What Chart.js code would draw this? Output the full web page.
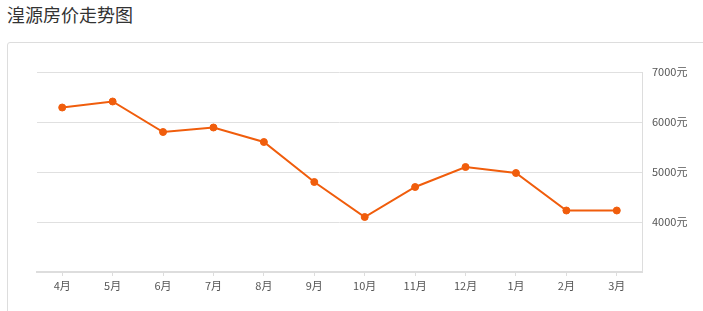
<!DOCTYPE html>
<html>
<head>
<meta charset="utf-8">
<script src="https://cdn.jsdelivr.net/npm/chart.js@4/dist/chart.umd.min.js"></script>
<style>
  body { margin: 0; background: #fff; font-family: "Noto Sans CJK SC", sans-serif; overflow: hidden; }
  .title { position: absolute; left: 7px; top: 2px; font-size: 18px; color: #333; line-height: 24px; }
  .box { position: absolute; left: 7px; top: 42px; width: 720px; height: 300px; border: 1px solid #ddd; border-radius: 3px; }
  #priceChart { position: absolute; left: 0; top: 0; }
</style>
</head>
<body>
<div class="title">湟源房价走势图</div>
<div class="box"></div>
<canvas id="priceChart" width="703" height="311"></canvas>
<script>
const months = ['4月', '5月', '6月', '7月', '8月', '9月', '10月', '11月', '12月', '1月', '2月', '3月'];
const prices = [6290, 6410, 5800, 5890, 5600, 4800, 4100, 4700, 5100, 4980, 4230, 4230];
const yTicks = [3000, 4000, 5000, 6000, 7000];

const lineColor = '#f05d0c';

const ctx = document.getElementById('priceChart').getContext('2d');
const priceChart = new Chart(ctx, {
    type: 'line',
    data: {
        labels: months,
        datasets: [{
            label: '房价',
            data: prices,
            borderColor: lineColor,
            backgroundColor: lineColor,
            borderWidth: 2,
            pointRadius: 3.5,
            pointBorderWidth: 1,
            pointHoverRadius: 3.5,
            tension: 0
        }]
    },
    options: {
        responsive: false,
        animation: false,
        layout: { padding: { left: 37, top: 72, right: 0, bottom: 0 } },
        plugins: {
            legend: { display: false },
            tooltip: { enabled: false }
        },
        scales: {
            x: {
                offset: true,
                grid: {
                    offset: false,
                    drawOnChartArea: false,
                    drawTicks: true,
                    tickLength: 4,
                    color: '#ddd'
                },
                border: { display: true, color: '#ddd', width: 2 },
                ticks: {
                    color: '#555',
                    font: { size: 11, family: '"Noto Sans CJK SC", sans-serif' },
                    padding: 3,
                    maxRotation: 0,
                    autoSkip: false
                },
                afterFit: (scale) => { scale.height = 39; }
            },
            y: {
                position: 'right',
                min: 3000,
                max: 7000,
                afterBuildTicks: (scale) => { scale.ticks = yTicks.map(v => ({ value: v })); },
                grid: { color: '#e0e0e0', drawTicks: false },
                border: { display: true, color: '#ddd', width: 1 },
                ticks: {
                    color: '#555',
                    font: { size: 11, family: '"Noto Sans CJK SC", sans-serif' },
                    padding: 10,
                    callback: (v) => v === 3000 ? '' : v + '元'
                },
                afterFit: (scale) => { scale.width = 61; }
            }
        }
    }
});
</script>
</body>
</html>
